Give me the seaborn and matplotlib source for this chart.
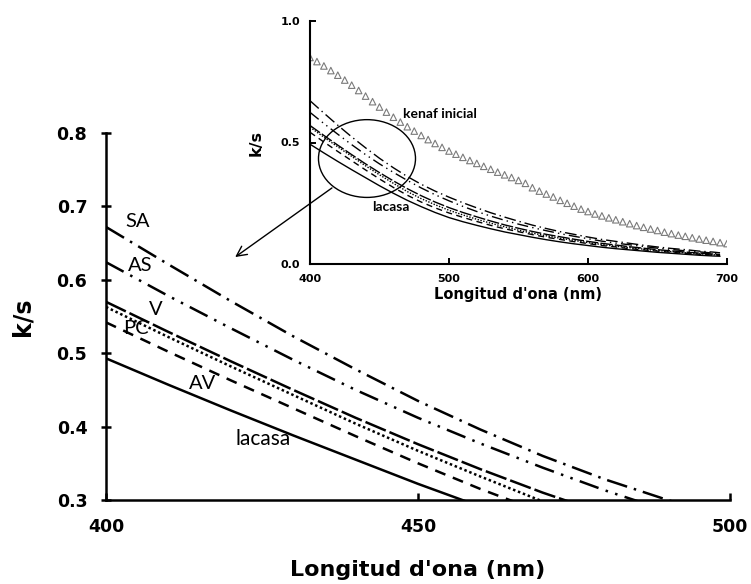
import matplotlib
matplotlib.use("Agg")
import matplotlib.pyplot as plt
from matplotlib.patches import Ellipse, ConnectionPatch
from matplotlib.ticker import FormatStrFormatter
import pandas as pd
import seaborn as sns

# Wavelength grid (nm) for the treated-pulp curves
wavelength = [400, 410, 420, 430, 440, 450, 460, 470, 480, 490, 500,
              510, 520, 530, 540, 550, 560, 570, 580, 590, 600,
              610, 620, 630, 640, 650, 660, 670, 680, 690, 695]

# k/s of each treatment
ks_sa = [0.672, 0.621, 0.571, 0.523, 0.478, 0.435, 0.396, 0.360, 0.328, 0.300, 0.275,
         0.252, 0.231, 0.211, 0.193, 0.176, 0.160, 0.146, 0.133, 0.122, 0.111,
         0.101, 0.093, 0.085, 0.077, 0.070, 0.064, 0.059, 0.053, 0.049, 0.046]
ks_as = [0.624, 0.578, 0.534, 0.491, 0.450, 0.412, 0.377, 0.344, 0.313, 0.285, 0.260,
         0.237, 0.216, 0.197, 0.180, 0.164, 0.150, 0.137, 0.125, 0.114, 0.104,
         0.094, 0.086, 0.079, 0.072, 0.065, 0.060, 0.054, 0.050, 0.045, 0.043]
ks_v = [0.570, 0.529, 0.489, 0.450, 0.412, 0.376, 0.342, 0.310, 0.281, 0.255, 0.232,
        0.212, 0.194, 0.177, 0.161, 0.147, 0.134, 0.122, 0.112, 0.102, 0.093,
        0.085, 0.078, 0.071, 0.065, 0.059, 0.054, 0.049, 0.045, 0.041, 0.039]
ks_pc = [0.563, 0.522, 0.482, 0.443, 0.404, 0.367, 0.332, 0.298, 0.269, 0.244, 0.221,
         0.202, 0.184, 0.168, 0.153, 0.139, 0.127, 0.116, 0.106, 0.097, 0.088,
         0.080, 0.073, 0.067, 0.061, 0.055, 0.051, 0.046, 0.042, 0.038, 0.037]
ks_av = [0.542, 0.502, 0.463, 0.425, 0.387, 0.350, 0.315, 0.283, 0.255, 0.231, 0.210,
         0.192, 0.175, 0.159, 0.145, 0.133, 0.121, 0.110, 0.101, 0.092, 0.084,
         0.076, 0.070, 0.063, 0.058, 0.053, 0.048, 0.044, 0.040, 0.037, 0.035]
ks_lacasa = [0.493, 0.457, 0.422, 0.388, 0.355, 0.322, 0.291, 0.262, 0.236, 0.212, 0.191,
             0.174, 0.159, 0.145, 0.132, 0.121, 0.110, 0.100, 0.091, 0.083, 0.076,
             0.069, 0.063, 0.058, 0.053, 0.048, 0.044, 0.040, 0.036, 0.033, 0.032]

# Untreated kenaf, measured every 5 nm
wavelength_kenaf = list(range(400, 705, 5))
ks_kenaf = [0.850, 0.833, 0.815, 0.796, 0.777, 0.757, 0.736, 0.714, 0.691, 0.668,
            0.646, 0.625, 0.604, 0.584, 0.565, 0.547, 0.529, 0.512, 0.496, 0.480,
            0.465, 0.452, 0.439, 0.426, 0.414, 0.402, 0.390, 0.378, 0.367, 0.356,
            0.344, 0.332, 0.314, 0.300, 0.288, 0.276, 0.262, 0.250, 0.238, 0.226,
            0.216, 0.206, 0.198, 0.190, 0.182, 0.174, 0.166, 0.158, 0.151, 0.144,
            0.138, 0.131, 0.125, 0.119, 0.114, 0.108, 0.103, 0.098, 0.093, 0.088,
            0.084]

series = {"SA": ks_sa, "AS": ks_as, "V": ks_v, "PC": ks_pc, "AV": ks_av, "lacasa": ks_lacasa}
line_styles = {
    "SA": (0, (8.4, 2.8, 1, 2.8)),
    "AS": (0, (8, 3, 1, 3, 1, 3)),
    "V": (0, (8.8, 1.6)),
    "PC": (0, (1, 1.1)),
    "AV": (0, (4.4, 3.2)),
    "lacasa": "-",
}

df = pd.concat([pd.DataFrame({"wl": wavelength, "ks": vals, "serie": name})
                for name, vals in series.items()], ignore_index=True)
df_kenaf = pd.DataFrame({"wl": wavelength_kenaf, "ks": ks_kenaf})

sns.set_style("ticks")
plt.rcParams["font.family"] = ["DejaVu Sans"]
plt.rcParams["font.weight"] = "bold"
plt.rcParams["axes.labelweight"] = "bold"
for key in ("text.color", "axes.labelcolor", "xtick.color", "ytick.color",
            "xtick.labelcolor", "ytick.labelcolor", "axes.edgecolor"):
    plt.rcParams[key] = "black"

W, H = 751, 584
fig = plt.figure(figsize=(W / 100, H / 100), dpi=100)
ax = fig.add_axes([106 / W, 1 - 500 / H, 624 / W, 367 / H])
ax_in = fig.add_axes([310 / W, 1 - 264 / H, 417 / W, 243 / H])

# ---- main panel: 400-500 nm detail ----
for name in series:
    sub = df[df["serie"] == name]
    sns.lineplot(data=sub, x="wl", y="ks", ax=ax, color="black", lw=1.8,
                 linestyle=line_styles[name], estimator=None, sort=False)

ax.set_xlim(400, 500)
ax.set_ylim(0.3, 0.8)
ax.set_xticks([400, 450, 500])
ax.set_yticks([0.3, 0.4, 0.5, 0.6, 0.7, 0.8])
ax.yaxis.set_major_formatter(FormatStrFormatter("%.1f"))
ax.tick_params(axis="x", direction="in", length=5, width=1.8, pad=13, labelsize=12.5)
ax.tick_params(axis="y", direction="inout", length=7, width=1.8, pad=10, labelsize=12.5)
for side in ("left", "bottom"):
    ax.spines[side].set_linewidth(1.8)
    ax.spines[side].set_color("black")
sns.despine(ax=ax)
ax.set_xlabel("Longitud d'ona (nm)", fontsize=16, labelpad=17)
ax.set_ylabel("k/s", fontsize=17, labelpad=16)

label_pos = {"SA": (405.0, 0.679), "AS": (405.4, 0.619), "V": (408.0, 0.560),
             "PC": (404.8, 0.533), "AV": (415.4, 0.459), "lacasa": (425.2, 0.383)}
for name, (lx, ly) in label_pos.items():
    ax.text(lx, ly, name, family="Lato", fontweight="normal", color="black",
            fontsize=15 if name == "lacasa" else 14.5, ha="center", va="center")

# ---- inset: full 400-700 nm range ----
ax_in.set_facecolor("white")
for name in series:
    sub = df[df["serie"] == name]
    sns.lineplot(data=sub, x="wl", y="ks", ax=ax_in, color="black", lw=1.0,
                 linestyle=line_styles[name], estimator=None, sort=False)
sns.scatterplot(data=df_kenaf, x="wl", y="ks", ax=ax_in, marker="^", s=22,
                facecolors="none", edgecolor="#7a7a7a", linewidth=0.8)

ax_in.set_xlim(400, 700)
ax_in.set_ylim(0, 1.0)
ax_in.set_xticks([400, 500, 600, 700])
ax_in.set_yticks([0.0, 0.5, 1.0])
ax_in.yaxis.set_major_formatter(FormatStrFormatter("%.1f"))
ax_in.tick_params(direction="in", length=4, width=1.4, pad=7, labelsize=8)
for side in ("left", "bottom"):
    ax_in.spines[side].set_linewidth(1.5)
    ax_in.spines[side].set_color("black")
sns.despine(ax=ax_in)
ax_in.set_xlabel("Longitud d'ona (nm)", fontsize=10.5, labelpad=2)
ax_in.set_ylabel("k/s", fontsize=11.5, labelpad=12)

ax_in.text(493.3, 0.617, "kenaf inicial", family="Lato", fontweight="bold",
           fontsize=10, ha="center", va="center", color="black")
ax_in.text(457.9, 0.233, "lacasa", family="Lato", fontweight="bold",
           fontsize=10, ha="center", va="center", color="black")

ax_in.add_patch(Ellipse((441.0, 0.434), width=69.8, height=0.32, fill=False,
                        ec="black", lw=1.0))

arrow = ConnectionPatch(xyA=(415.8, 0.313), coordsA=ax_in.transData,
                        xyB=(420.7, 0.631), coordsB=ax.transData,
                        arrowstyle="->", mutation_scale=18, lw=1.0, color="black")
fig.add_artist(arrow)

fig.savefig("out.png", dpi=100)
